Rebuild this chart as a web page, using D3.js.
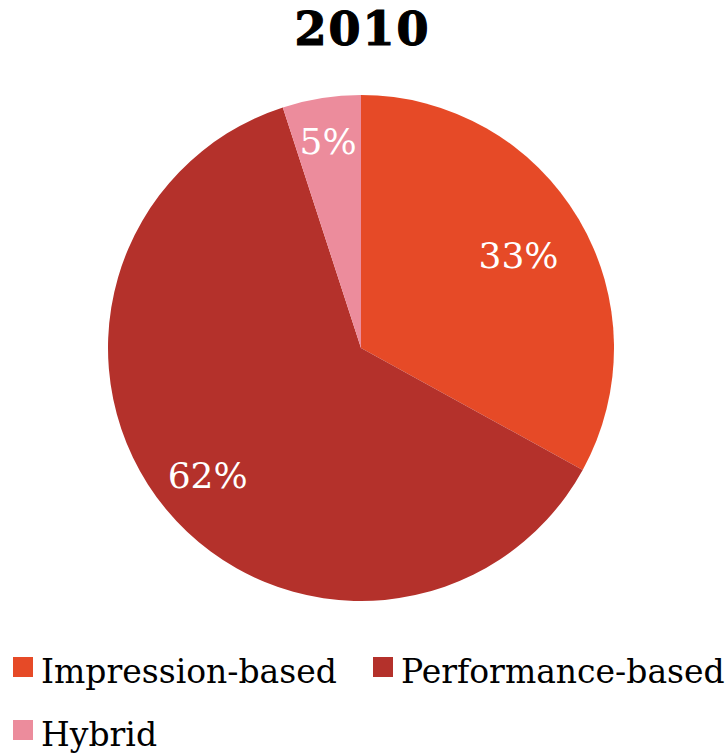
<!DOCTYPE html>
<html>
<head>
<meta charset="utf-8">
<script src="https://cdn.jsdelivr.net/npm/d3@7"></script>
<style>
  html, body { margin: 0; padding: 0; background: #fff; }
  svg { display: block; }
</style>
</head>
<body>
<svg id="chart" width="725" height="753"></svg>
<script>
// Ad pricing model shares, 2010
const title = "2010";
const categories = ["Impression-based", "Performance-based", "Hybrid"];
const shares = [33, 62, 5];
const colors = ["#E64A27", "#B4312B", "#EC8C9C"];

const svg = d3.select("#chart");
const W = 725;
const cx = 361, cy = 348, R = 253;
// distance of each percentage label from the pie centre
const labelRadius = [183, 199, 210];

const serif = "'DejaVu Serif', serif";

svg.append("text")
  .attr("x", W / 2)
  .attr("y", 45)
  .attr("text-anchor", "middle")
  .attr("font-family", serif)
  .attr("font-weight", "bold")
  .attr("font-size", 46)
  .attr("letter-spacing", 2)
  .attr("stroke", "#000")
  .attr("stroke-width", 1.2)
  .attr("fill", "#000")
  .text(title);

const data = categories.map((c, i) => ({ name: c, value: shares[i], color: colors[i] }));

const pie = d3.pie().value(d => d.value).sort(null);
const arcs = pie(data);
const arc = d3.arc().innerRadius(0).outerRadius(R);

const g = svg.append("g").attr("transform", `translate(${cx},${cy})`);

g.selectAll("path.slice")
  .data(arcs)
  .join("path")
  .attr("class", "slice")
  .attr("d", arc)
  .attr("fill", d => d.data.color);

g.selectAll("text.pct")
  .data(arcs)
  .join("text")
  .attr("class", "pct")
  .attr("transform", (d, i) => {
    const r = labelRadius[i];
    const pos = d3.arc().innerRadius(r).outerRadius(r).centroid(d);
    return `translate(${pos})`;
  })
  .attr("text-anchor", "middle")
  .attr("dy", "0.36em")
  .attr("font-family", serif)
  .attr("font-size", 36)
  .attr("fill", "#fff")
  .text(d => d.data.value + "%");

// Legend: two items on the first row, one on the second
const legendPos = [
  { x: 13, y: 657 },
  { x: 373, y: 657 },
  { x: 13, y: 720 }
];

const legend = svg.selectAll("g.legend")
  .data(data)
  .join("g")
  .attr("class", "legend")
  .attr("transform", (d, i) => `translate(${legendPos[i].x},${legendPos[i].y})`);

legend.append("rect")
  .attr("width", 20)
  .attr("height", 20)
  .attr("fill", d => d.color);

legend.append("text")
  .attr("x", 28)
  .attr("y", 26)
  .attr("font-family", serif)
  .attr("font-size", 33)
  .attr("fill", "#000")
  .text(d => d.name);
</script>
</body>
</html>
